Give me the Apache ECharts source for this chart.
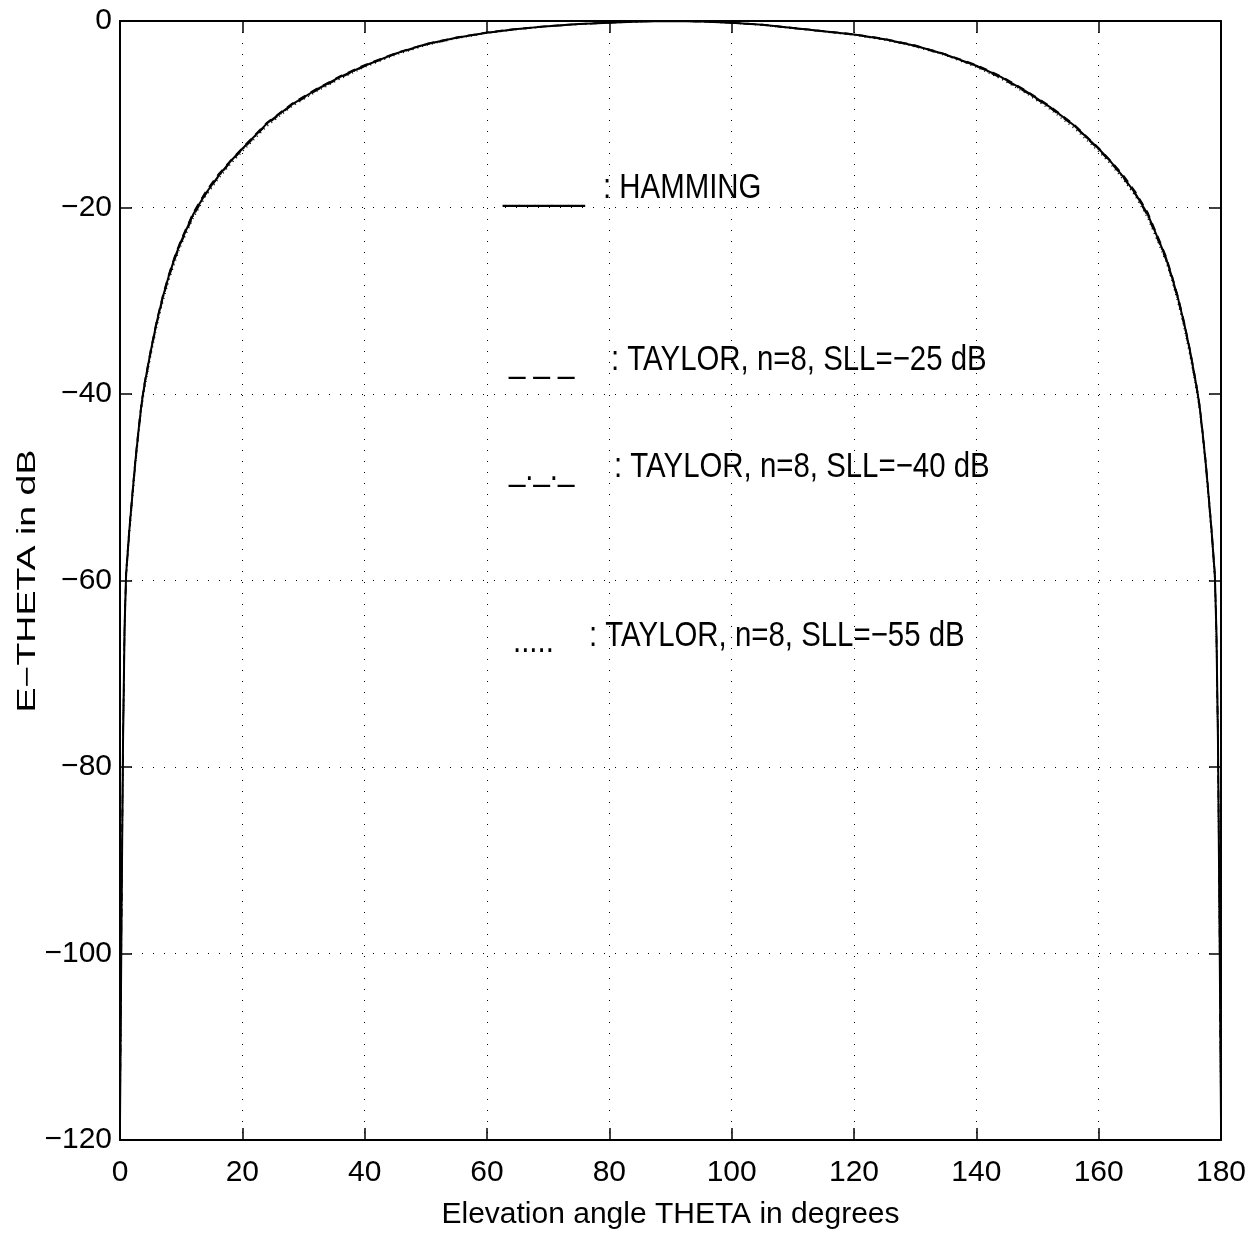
<!DOCTYPE html>
<html>
<head>
<meta charset="utf-8">
<script src="https://cdn.jsdelivr.net/npm/echarts@6/dist/echarts.min.js"></script>
<style>
html,body{margin:0;padding:0;background:#fff;}
#chart{width:1253px;height:1237px;}
</style>
</head>
<body>
<div id="chart"></div>
<script>
// Elevation angle THETA (degrees)
const theta = [0,0.25,0.5,0.75,1,1.5,2,2.5,3,3.5,4,5,6,7,8,9,10,12,14,16,18,20,24,28,32,36,40,45,50,55,60,65,70,75,80,85,90,95,100,105,110,115,120,125,130,135,140,144,148,152,156,160,162,164,166,168,170,171,172,173,174,175,176,176.5,177,177.5,178,178.5,179,179.25,179.5,179.75,180];

// E-THETA in dB
const hamming = [-118,-96,-77,-65,-59.3,-54.8,-51,-47.3,-44.1,-41.2,-39,-35.5,-32.3,-29.6,-27.3,-25.3,-23.6,-20.7,-18.5,-16.7,-15.1,-13.7,-11.0,-9.0,-7.4,-6.0,-4.8,-3.5,-2.5,-1.8,-1.25,-0.85,-0.55,-0.33,-0.18,-0.06,0,-0.06,-0.2,-0.4,-0.75,-1.1,-1.45,-1.95,-2.65,-3.6,-4.8,-6.0,-7.5,-9.2,-11.2,-13.7,-15.1,-16.7,-18.5,-20.7,-23.8,-25.4,-27.5,-29.8,-32.5,-35.6,-39.2,-41.3,-44.2,-47.4,-51.1,-55,-59.5,-65.5,-77,-96,-118];
const taylor25 = [-117,-95,-76.5,-64.6,-59,-54.5,-50.7,-47.0,-43.8,-40.9,-38.8,-35.3,-32.1,-29.4,-27.1,-25.1,-23.4,-20.5,-18.3,-16.5,-15.0,-13.6,-10.9,-8.9,-7.3,-5.9,-4.7,-3.45,-2.45,-1.75,-1.2,-0.82,-0.52,-0.31,-0.16,-0.05,0,-0.05,-0.18,-0.38,-0.72,-1.07,-1.4,-1.9,-2.6,-3.55,-4.7,-5.9,-7.4,-9.1,-11.1,-13.6,-15.0,-16.5,-18.3,-20.5,-23.6,-25.2,-27.3,-29.6,-32.3,-35.4,-39.0,-41.1,-44.0,-47.1,-50.8,-54.7,-59.2,-65.1,-76.5,-95,-117];
const taylor40 = [-118,-96.5,-77.3,-65.2,-59.5,-55,-51.2,-47.5,-44.3,-41.4,-39.2,-35.7,-32.5,-29.8,-27.5,-25.5,-23.8,-20.9,-18.6,-16.8,-15.2,-13.8,-11.1,-9.1,-7.5,-6.1,-4.85,-3.55,-2.55,-1.82,-1.27,-0.87,-0.56,-0.34,-0.19,-0.06,0,-0.06,-0.21,-0.41,-0.77,-1.12,-1.47,-1.98,-2.7,-3.65,-4.85,-6.1,-7.6,-9.3,-11.3,-13.8,-15.2,-16.8,-18.6,-20.9,-24.0,-25.6,-27.7,-30.0,-32.7,-35.8,-39.4,-41.5,-44.4,-47.6,-51.3,-55.2,-59.7,-65.8,-77.3,-96.5,-118];
const taylor55 = [-119,-97,-77.8,-65.6,-59.8,-55.3,-51.5,-47.8,-44.6,-41.7,-39.5,-36.0,-32.8,-30.1,-27.8,-25.8,-24.0,-21.1,-18.8,-17.0,-15.4,-14.0,-11.3,-9.2,-7.6,-6.2,-4.95,-3.65,-2.6,-1.87,-1.3,-0.9,-0.58,-0.36,-0.2,-0.07,0,-0.07,-0.22,-0.43,-0.8,-1.15,-1.52,-2.02,-2.75,-3.7,-4.95,-6.2,-7.7,-9.45,-11.5,-14.0,-15.4,-17.0,-18.8,-21.1,-24.2,-25.8,-27.9,-30.3,-33.0,-36.1,-39.7,-41.8,-44.7,-47.9,-51.6,-55.5,-60.0,-66.1,-77.8,-97,-119];

const xTicks = [0,20,40,60,80,100,120,140,160,180];
const yTicks = [-120,-100,-80,-60,-40,-20,0];

const legendMarks = ['_____', '_ _ _', '_._._', '.....'];
const legendTexts = [': HAMMING', ': TAYLOR, n=8, SLL=\u221225 dB', ': TAYLOR, n=8, SLL=\u221240 dB', ': TAYLOR, n=8, SLL=\u221255 dB'];

const xTitle = 'Elevation angle THETA in degrees';
const yTitle = 'E\u2212THETA in dB';

const FONT = '"Liberation Sans", Arial, sans-serif';
const pair = ys => theta.map((t, i) => [t, ys[i]]);
const fmt = v => (v < 0 ? '\u2212' + Math.abs(v) : String(v));

const chart = echarts.init(document.getElementById('chart'), null, {renderer: 'canvas'});

const axisCommon = {
  type: 'value',
  axisLine: {show: true, onZero: false, lineStyle: {color: '#000', width: 2}},
  axisTick: {show: true, inside: true, length: 12, lineStyle: {color: '#000', width: 1.5}},
};

const legendText = (txt, left, top) => ({
  type: 'text', x: left, y: top, scaleX: 0.84,
  style: {text: txt, font: '35px ' + FONT, fill: '#000', verticalAlign: 'middle'}
});

const option = {
  backgroundColor: '#fff',
  animation: false,
  grid: {left: 120, top: 21, right: 32, bottom: 97, containLabel: false},
  xAxis: [
    Object.assign({}, axisCommon, {
      position: 'bottom', min: 0, max: 180, interval: 20,
      axisLabel: {color: '#000', fontFamily: FONT, fontSize: 30, margin: 18, formatter: fmt},
      splitLine: {show: true, lineStyle: {color: '#000', width: 1, type: [1, 10]}},
      name: xTitle, nameLocation: 'middle', nameGap: 60,
      nameTextStyle: {color: '#000', fontFamily: FONT, fontSize: 30}
    }),
    Object.assign({}, axisCommon, {
      position: 'top', min: 0, max: 180, interval: 20,
      axisLabel: {show: false}, splitLine: {show: false}
    })
  ],
  yAxis: [
    Object.assign({}, axisCommon, {
      position: 'left', min: -120, max: 0, interval: 20,
      axisLabel: {color: '#000', fontFamily: FONT, fontSize: 30, margin: 8, formatter: fmt},
      splitLine: {show: true, lineStyle: {color: '#000', width: 1, type: [1, 10]}}
    }),
    Object.assign({}, axisCommon, {
      position: 'right', min: -120, max: 0, interval: 20,
      axisLabel: {show: false}, splitLine: {show: false}
    })
  ],
  series: [
    {name: 'HAMMING', type: 'line', data: pair(hamming), showSymbol: false, lineStyle: {color: '#000', width: 2, type: 'solid'}},
    {name: 'TAYLOR -25', type: 'line', data: pair(taylor25), showSymbol: false, lineStyle: {color: '#000', width: 1.5, type: [8, 6]}},
    {name: 'TAYLOR -40', type: 'line', data: pair(taylor40), showSymbol: false, lineStyle: {color: '#000', width: 1.5, type: [8, 4, 1, 4]}},
    {name: 'TAYLOR -55', type: 'line', data: pair(taylor55), showSymbol: false, lineStyle: {color: '#000', width: 1.5, type: [1, 4]}}
  ],
  graphic: [
    legendText(legendMarks[0], 503, 190),
    legendText(legendMarks[1], 509, 362),
    legendText(legendMarks[2], 509, 470),
    legendText(legendMarks[3], 513, 642),
    legendText(legendTexts[0], 603, 188),
    legendText(legendTexts[1], 611, 360),
    legendText(legendTexts[2], 614, 467),
    legendText(legendTexts[3], 589, 636),
    {type: 'text', x: 28, y: 581, rotation: Math.PI / 2, scaleX: 1.5,
     style: {text: yTitle, font: '25px "Liberation Sans", Arial, sans-serif', fill: '#000', align: 'center', verticalAlign: 'middle'}}
  ]
};
chart.setOption(option);
</script>
</body>
</html>
